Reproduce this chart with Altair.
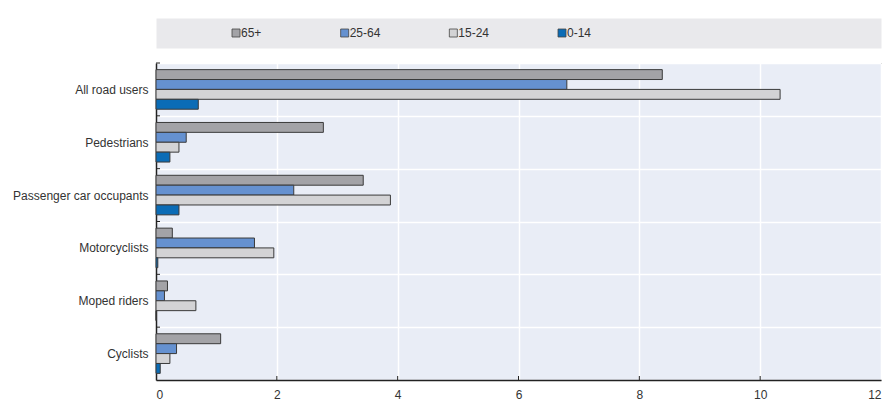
import altair as alt
import pandas as pd

categories = ["All road users", "Pedestrians", "Passenger car occupants",
              "Motorcyclists", "Moped riders", "Cyclists"]
groups = ["65+", "25-64", "15-24", "0-14"]
v65 = [8.38, 2.77, 3.43, 0.27, 0.19, 1.07]
v2564 = [6.80, 0.50, 2.28, 1.63, 0.14, 0.34]
v1524 = [10.33, 0.38, 3.88, 1.95, 0.66, 0.23]
v014 = [0.70, 0.23, 0.38, 0.03, 0.0, 0.07]
colors = ["#a3a3a7", "#6591d0", "#d3d3d5", "#0b6cb6"]
xticks = [0, 2, 4, 6, 8, 10, 12]

FONT = "Liberation Sans, Arial, sans-serif"

rows = []
for g, vals in zip(groups, [v65, v2564, v1524, v014]):
    for c, v in zip(categories, vals):
        rows.append({"category": c, "group": g, "value": v})
df = pd.DataFrame(rows)
leg = pd.DataFrame({"group": groups})
xt = pd.DataFrame({"value": xticks[1:-1]})
cats = pd.DataFrame({"category": categories})

color_scale = alt.Scale(domain=groups, range=colors)

legend_base = alt.Chart(leg).encode(
    x=alt.X("group:N", sort=groups, axis=None,
            scale=alt.Scale(type="point", range=[80, 406], padding=0)),
    y=alt.value(15),
)
legend_sq = legend_base.mark_square(size=64, stroke="#444444", strokeWidth=0.8, opacity=1).encode(
    fill=alt.Fill("group:N", scale=color_scale, legend=None)
)
legend_tx = legend_base.mark_text(align="left", baseline="middle", dx=5, fontSize=12,
                                  font=FONT, color="#333333").encode(text="group:N")
legend_panel = alt.layer(legend_sq, legend_tx).properties(
    width=725, height=30,
    view=alt.ViewBackground(fill="#e9e9ec", stroke="transparent"),
)

bars = alt.Chart(df).mark_bar(stroke="#3a3a3a", strokeWidth=1).encode(
    y=alt.Y("category:N", sort=categories, title=None,
            scale=alt.Scale(paddingInner=0, paddingOuter=0),
            axis=alt.Axis(labelFontSize=12, labelFont=FONT, labelColor="#333333",
                          labelPadding=8, ticks=False, tickBand="extent",
                          grid=True, gridColor="#ffffff", gridWidth=1.5,
                          domainColor="#222222", domainWidth=1.5)),
    yOffset=alt.YOffset("group:N", sort=groups,
                        scale=alt.Scale(paddingInner=0, paddingOuter=0.67)),
    x=alt.X("value:Q", title=None,
            scale=alt.Scale(domain=[0, 12], nice=False),
            axis=alt.Axis(values=xticks, format="d", labelFontSize=12, labelFont=FONT,
                          labelColor="#333333", labelPadding=9, ticks=False,
                          grid=True, gridColor="#ffffff", gridWidth=1.5,
                          domainColor="#222222", domainWidth=1.5)),
    fill=alt.Fill("group:N", scale=color_scale, legend=None),
)

x_inner_ticks = alt.Chart(xt).mark_rule(color="#222222", strokeWidth=1).encode(
    x=alt.X("value:Q", title=None),
    y=alt.value(317), y2=alt.value(313),
)
y_inner_ticks = alt.Chart(cats).mark_rule(color="#222222", strokeWidth=1).encode(
    y=alt.Y("category:N", sort=categories, title=None, bandPosition=0),
    x=alt.value(0), x2=alt.value(4),
)

main = alt.layer(bars, x_inner_ticks, y_inner_ticks).properties(
    width=725, height=317,
    view=alt.ViewBackground(fill="#e9edf6", stroke="#555555", strokeWidth=1),
)

chart = alt.vconcat(legend_panel, main, spacing=7).properties(
    padding={"left": 4, "top": 9, "right": 2, "bottom": 4},
    background="#ffffff",
)

chart.save("out.html", embed_options={"renderer": "svg", "actions": False})
